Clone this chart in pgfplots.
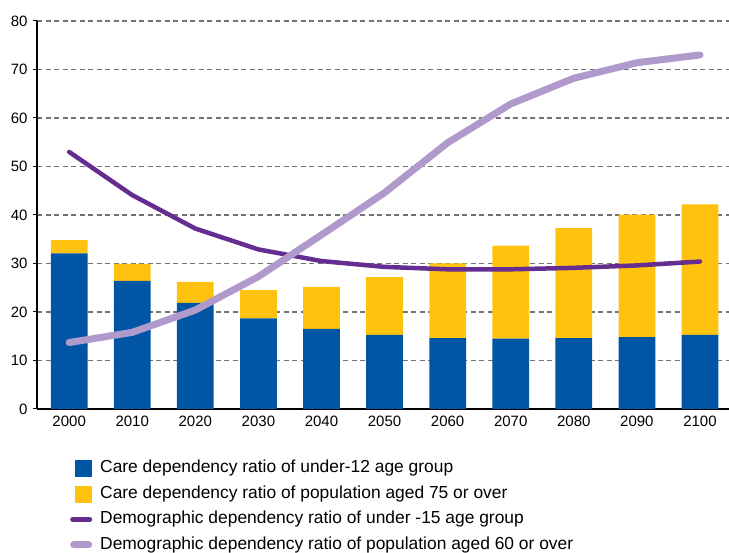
\documentclass[border=0pt]{standalone}
\usepackage{fontspec}
\setmainfont{Liberation Sans}
\usepackage{pgfplots}
\usepackage{pgfplotstable}
\pgfplotsset{compat=1.18}

\definecolor{cblue}{HTML}{0055A4}
\definecolor{cyellow}{HTML}{FFC20E}
\definecolor{cdark}{HTML}{662D91}
\definecolor{clight}{HTML}{B09ACB}

\pgfplotstableread{
x year blue yellow under15 over60
0  2000 32.1 2.7  53.0 13.7
1  2010 26.4 3.5  44.1 15.8
2  2020 21.9 4.3  37.2 20.4
3  2030 18.7 5.8  32.9 27.3
4  2040 16.5 8.7  30.5 35.9
5  2050 15.3 11.9 29.3 44.6
6  2060 14.6 15.4 28.8 54.9
7  2070 14.5 19.2 28.8 62.9
8  2080 14.6 22.7 29.1 68.2
9  2090 14.8 25.3 29.6 71.4
10 2100 15.3 26.9 30.4 73.0
}\data

\begin{document}
\begin{tikzpicture}
\pgfplotsset{common/.style={
    width=692pt, height=388pt, scale only axis,
    xmin=-0.51, xmax=10.46, ymin=0, ymax=80}}

% bars, grid and axes
\begin{axis}[common,
    ybar stacked, bar width=36.7pt,
    axis x line*=bottom, axis y line*=left,
    axis line style={black, line width=1.2pt},
    xtick={0,...,10}, xticklabels from table={\data}{year},
    ytick={0,10,...,80},
    tick align=outside, major tick length=4pt,
    xtick style={draw=none},
    ytick style={black, line width=1pt},
    ymajorgrids,
    grid style={color=black!55, line width=1.3pt, dash pattern=on 5pt off 3.5pt},
    tick label style={font=\fontsize{15}{18}\selectfont},
    /pgf/number format/assume math mode=true,
    yticklabel style={xshift=-2pt},
  ]
  \addplot[fill=cblue, draw=none] table[x=x, y=blue] {\data};
  \addplot[fill=cyellow, draw=none] table[x=x, y=yellow] {\data};
  \coordinate (sw) at (rel axis cs:0,0);
  \coordinate (ne) at (rel axis cs:1,1);
\end{axis}

% lines and legend
\begin{axis}[common, hide axis,
    legend cell align=left,
    legend style={at={(rel axis cs:0.0477,-0.1314)}, anchor=north west,
      draw=none, fill=none, inner sep=0pt, row sep=9pt,
      font=\fontsize{17.4}{21}\selectfont,
      nodes={inner sep=0pt, text height=12.5pt, text depth=4pt}},
  ]
  \addlegendimage{legend image code/.code={
      \path[draw=none] (0pt,0pt) -- (30pt,0pt);
      \fill[cblue] (5pt,-8pt) rectangle (21pt,8pt);}}
  \addlegendentry{Care dependency ratio of under-12 age group}
  \addlegendimage{legend image code/.code={
      \path[draw=none] (0pt,0pt) -- (30pt,0pt);
      \fill[cyellow] (5pt,-8pt) rectangle (21pt,8pt);}}
  \addlegendentry{Care dependency ratio of population aged 75 or over}
  \addplot[cdark, line width=4.5pt, line cap=round, line join=round,
      legend image code/.code={
        \path[draw=none] (0pt,0pt) -- (30pt,0pt);
        \draw[cdark, line width=4.5pt, line cap=round] (2.25pt,0pt) -- (19.75pt,0pt);}]
    table[x=x, y=under15] {\data};
  \addlegendentry{Demographic dependency ratio of under -15 age group}
  \addplot[clight, line width=7pt, line cap=round, line join=round,
      legend image code/.code={
        \path[draw=none] (0pt,0pt) -- (30pt,0pt);
        \draw[clight, line width=7pt, line cap=round] (3.5pt,0pt) -- (18.5pt,0pt);}]
    table[x=x, y=over60] {\data};
  \addlegendentry{Demographic dependency ratio of population aged 60 or over}
\end{axis}

\pgfresetboundingbox
\path ([shift={(-37pt,-144pt)}]sw) rectangle ([shift={(0pt,21pt)}]ne);
\end{tikzpicture}
\end{document}
